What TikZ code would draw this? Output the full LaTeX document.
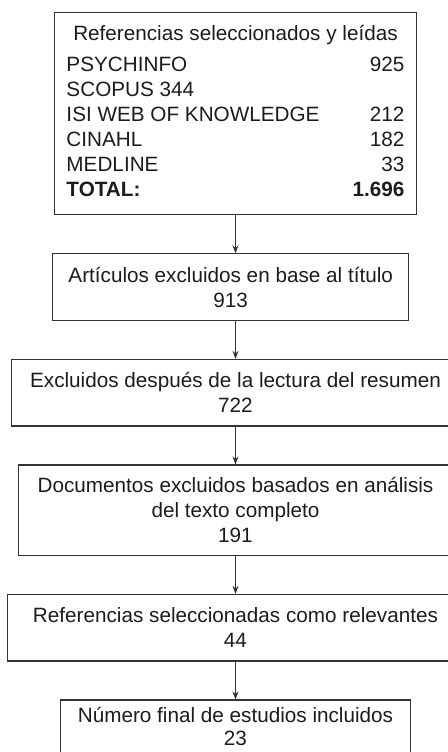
\documentclass[tikz,border=0pt]{standalone}
\usepackage{fontspec}
\setmainfont{Liberation Sans}
\usepackage{tikz}
\usetikzlibrary{positioning,arrows.meta}
\definecolor{gris}{HTML}{333333}
\definecolor{tinta}{HTML}{1C1C1C}

\begin{document}
\begin{tikzpicture}[font=\fontsize{10.35}{12.6}\selectfont, node distance=18.9pt,
  caja/.style={draw=gris, line width=0.6pt, align=center, minimum height=33.3pt, inner sep=0pt, text=tinta},
  fl/.style={-{Stealth[length=4pt, width=3pt]}, line width=0.55pt, color=gris}]
  \path[use as bounding box, clip] (0,0) rectangle (224pt,-376pt);
  \node[caja, minimum width=181.2pt, minimum height=101.35pt] (refs) at (117.75pt,-56.75pt) {%
    \fontsize{10.35}{12.5}\selectfont
    \begin{tabular*}{169pt}{@{}l@{\extracolsep{\fill}}r@{}}
      \multicolumn{2}{@{}c@{}}{Referencias seleccionados y leídas}\\[3pt]
      PSYCHINFO & 925\\
      SCOPUS 344 & \\
      ISI WEB OF KNOWLEDGE & 212\\
      CINAHL & 182\\
      MEDLINE & 33\\
      \textbf{TOTAL:} & \textbf{1.696}
    \end{tabular*}};
  \node[caja, minimum width=177.9pt, below=of refs, xshift=-2.4pt] (titulo) {Artículos excluidos en base al título\\913};
  \node[caja, minimum width=224.3pt, below=of titulo, xshift=2.4pt] (resumen) {Excluidos después de la lectura del resumen\\722};
  \node[caja, minimum width=217pt, minimum height=45.2pt, below=of resumen] (completo) {Documentos excluidos basados en análisis\\del texto completo\\191};
  \node[caja, minimum width=228.3pt, below=of completo] (relev) {Referencias seleccionadas como relevantes\\44};
  \node[caja, minimum width=175.2pt, below=of relev, font=\fontsize{10.35}{11.2}\selectfont] (final) {Número final de estudios incluidos\\23\rule[-7pt]{0pt}{7pt}};
  \draw[fl] (refs.south) -- (refs.south |- titulo.north);
  \draw[fl] (titulo.south -| resumen.north) -- (resumen.north);
  \draw[fl] (resumen) -- (completo);
  \draw[fl] (completo) -- (relev);
  \draw[fl] (relev) -- (final);
\end{tikzpicture}
\end{document}
